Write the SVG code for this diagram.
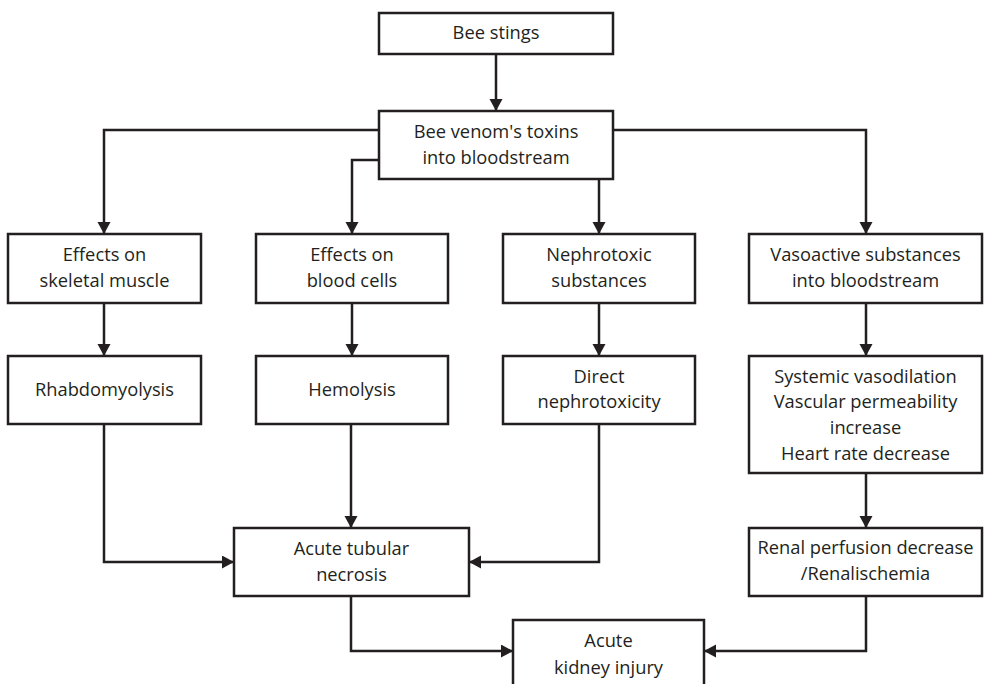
<svg xmlns="http://www.w3.org/2000/svg" width="984" height="684" viewBox="0 0 984 684">
<defs>
<style>
.box{fill:#fff;stroke:#231f20;stroke-width:2.5}
.t{font-family:"Open Sans","Liberation Sans",sans-serif;font-size:18.3px;fill:#231f20;text-anchor:middle}
.c{fill:none;stroke:#231f20;stroke-width:2.5;marker-end:url(#ah)}
</style>
<marker id="ah" markerUnits="userSpaceOnUse" markerWidth="14" markerHeight="14" refX="12" refY="6.5" orient="auto">
<path d="M0,0 L12,6.5 L0,13 Z" fill="#231f20"/>
</marker>
</defs>
<rect width="984" height="684" fill="#fff"/>
<g id="connectors">
<path class="c" d="M496,54 V111"/>
<path class="c" d="M379,130 H104 V234"/>
<path class="c" d="M379,160 H352 V234"/>
<path class="c" d="M599,179 V234"/>
<path class="c" d="M613,130 H866 V234"/>
<path class="c" d="M104,303 V356"/>
<path class="c" d="M352,303 V356"/>
<path class="c" d="M599,303 V356"/>
<path class="c" d="M866,303 V356"/>
<path class="c" d="M866,473 V528"/>
<path class="c" d="M104,424 V562 H234"/>
<path class="c" d="M351,424 V528"/>
<path class="c" d="M599,424 V562 H469"/>
<path class="c" d="M351,596 V651 H513"/>
<path class="c" d="M866,596 V651 H704"/>
</g>
<g id="bee-stings"><rect class="box" x="379" y="13" width="234" height="41"/><text class="t" x="496" y="39">Bee stings</text></g>
<g id="venom"><rect class="box" x="379" y="111" width="234" height="68"/><text class="t" x="496" y="138">Bee venom's toxins</text><text class="t" x="496" y="164">into bloodstream</text></g>
<g id="skeletal"><rect class="box" x="8" y="234" width="193" height="69"/><text class="t" x="104.5" y="261">Effects on</text><text class="t" x="104.5" y="287">skeletal muscle</text></g>
<g id="blood"><rect class="box" x="256" y="234" width="192" height="69"/><text class="t" x="352" y="261">Effects on</text><text class="t" x="352" y="287">blood cells</text></g>
<g id="nephrotoxic"><rect class="box" x="503" y="234" width="192" height="69"/><text class="t" x="599" y="261">Nephrotoxic</text><text class="t" x="599" y="287">substances</text></g>
<g id="vasoactive"><rect class="box" x="749" y="234" width="233" height="69"/><text class="t" x="865.5" y="261">Vasoactive substances</text><text class="t" x="865.5" y="287">into bloodstream</text></g>
<g id="rhabdo"><rect class="box" x="8" y="356" width="193" height="68"/><text class="t" x="104.5" y="396">Rhabdomyolysis</text></g>
<g id="hemolysis"><rect class="box" x="256" y="356" width="192" height="68"/><text class="t" x="352" y="396">Hemolysis</text></g>
<g id="direct"><rect class="box" x="503" y="356" width="192" height="68"/><text class="t" x="599" y="383">Direct</text><text class="t" x="599" y="408">nephrotoxicity</text></g>
<g id="systemic"><rect class="box" x="749" y="356" width="233" height="117"/><text class="t" x="865.5" y="383">Systemic vasodilation</text><text class="t" x="865.5" y="408">Vascular permeability</text><text class="t" x="865.5" y="434">increase</text><text class="t" x="865.5" y="460">Heart rate decrease</text></g>
<g id="tubular"><rect class="box" x="234" y="528" width="235" height="68"/><text class="t" x="351.5" y="555">Acute tubular</text><text class="t" x="351.5" y="581">necrosis</text></g>
<g id="renal"><rect class="box" x="749" y="528" width="233" height="68"/><text class="t" x="865.5" y="554">Renal perfusion decrease</text><text class="t" x="865.5" y="580">/Renalischemia</text></g>
<g id="aki"><rect class="box" x="513" y="620" width="191" height="70"/><text class="t" x="608.5" y="647">Acute</text><text class="t" x="608.5" y="674">kidney injury</text></g>
</svg>
